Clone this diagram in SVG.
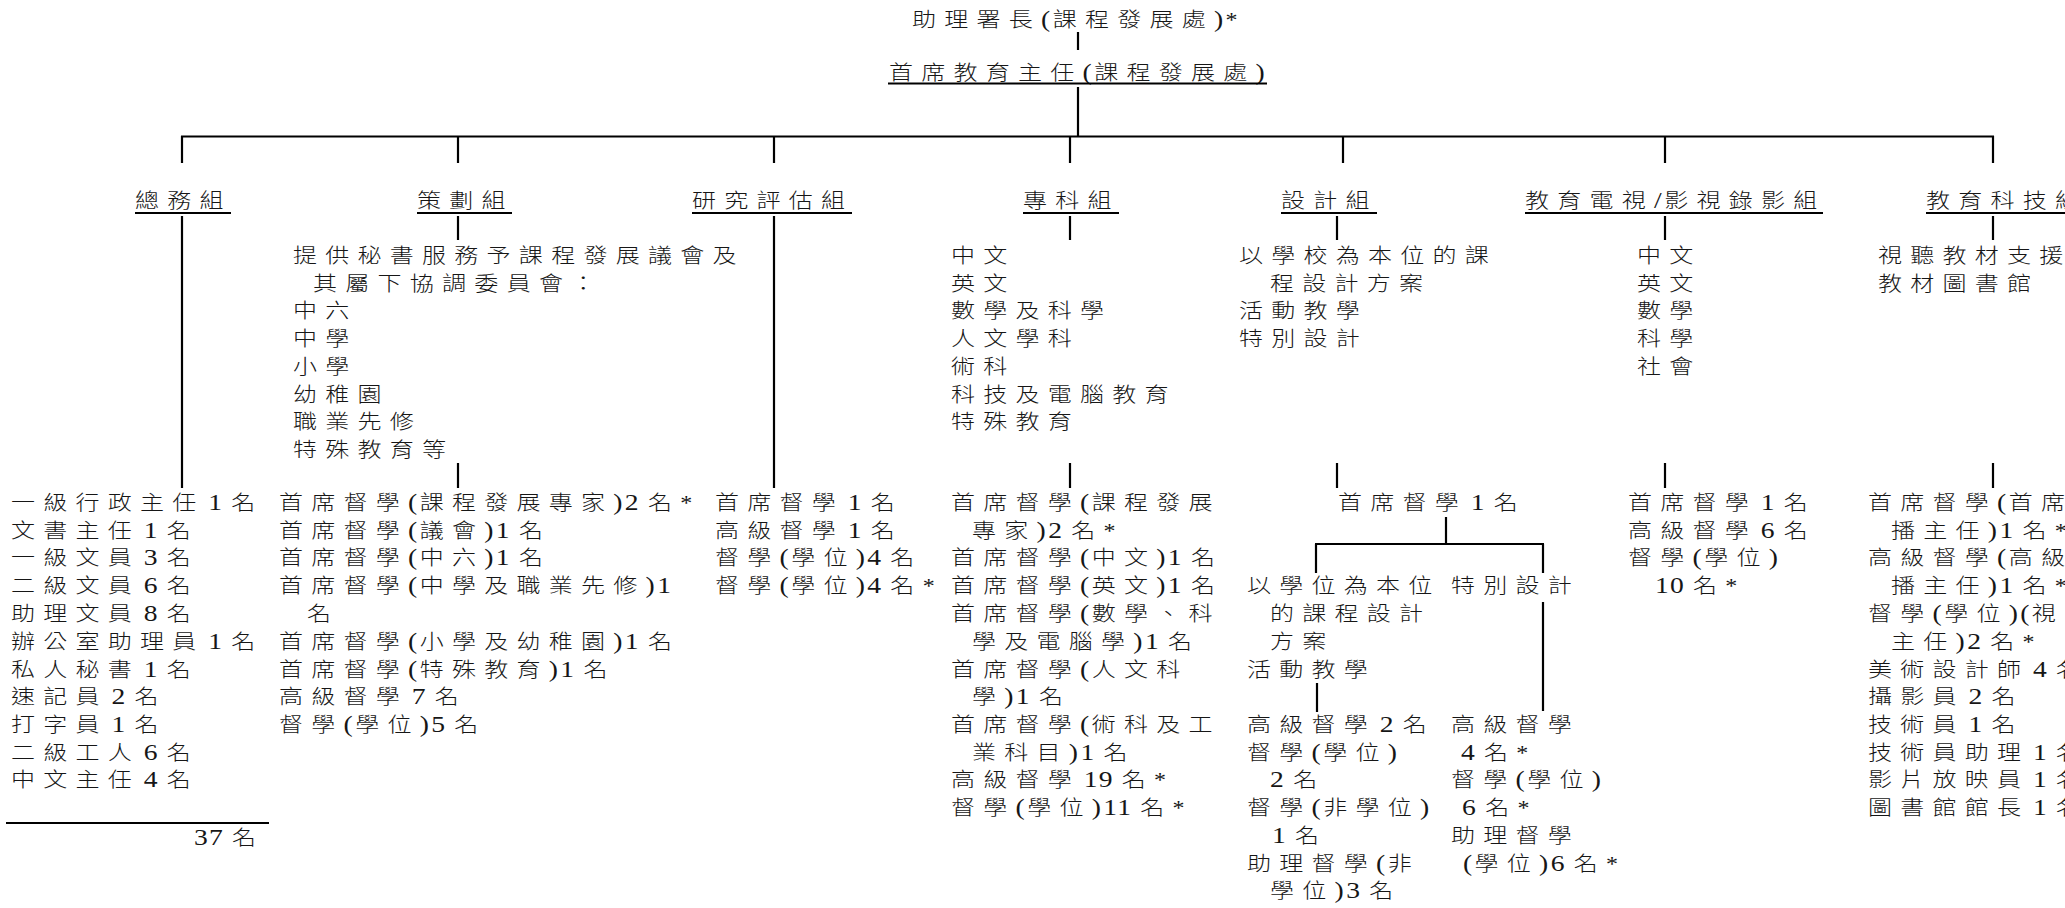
<svg xmlns="http://www.w3.org/2000/svg" width="2065" height="908" viewBox="0 0 2065 908">
<style>
text { font-family: "Liberation Serif", "Noto Sans CJK TC", serif; font-size: 20px; font-weight: 300; letter-spacing: 6.9px; fill: #161616; white-space: pre; }
.n { font-size: 23px; letter-spacing: 1px; }
.p { font-size: 23px; letter-spacing: 2px; }
line { stroke: #000; stroke-width: 2.2; }
</style>
<rect width="2065" height="908" fill="#fff"/>
<g id="connectors">
  <line x1="1078" y1="32" x2="1078" y2="50"/>
  <line x1="1078" y1="87" x2="1078" y2="137"/>
  <line x1="181" y1="136.5" x2="1994" y2="136.5"/>
  <line x1="182" y1="136" x2="182" y2="163"/>
  <line x1="458" y1="136" x2="458" y2="163"/>
  <line x1="774" y1="136" x2="774" y2="163"/>
  <line x1="1070" y1="136" x2="1070" y2="163"/>
  <line x1="1343" y1="136" x2="1343" y2="163"/>
  <line x1="1665" y1="136" x2="1665" y2="163"/>
  <line x1="1993" y1="136" x2="1993" y2="163"/>
  <line x1="182" y1="216" x2="182" y2="488"/>
  <line x1="458" y1="216" x2="458" y2="240"/>
  <line x1="458" y1="463" x2="458" y2="488"/>
  <line x1="774" y1="216" x2="774" y2="488"/>
  <line x1="1070" y1="216" x2="1070" y2="240"/>
  <line x1="1070" y1="463" x2="1070" y2="488"/>
  <line x1="1337" y1="216" x2="1337" y2="240"/>
  <line x1="1337" y1="463" x2="1337" y2="488"/>
  <line x1="1665" y1="216" x2="1665" y2="240"/>
  <line x1="1665" y1="463" x2="1665" y2="488"/>
  <line x1="1993" y1="216" x2="1993" y2="240"/>
  <line x1="1993" y1="463" x2="1993" y2="488"/>
  <line x1="1446" y1="517" x2="1446" y2="544"/>
  <line x1="1315" y1="544" x2="1544" y2="544"/>
  <line x1="1316" y1="544" x2="1316" y2="573"/>
  <line x1="1543" y1="544" x2="1543" y2="573"/>
  <line x1="1317" y1="683" x2="1317" y2="712"/>
  <line x1="1543" y1="602" x2="1543" y2="711"/>
</g>
<g id="asst-director">
  <g transform="translate(912 0) scale(1.2 1)">
    <text x="0" y="27">助理署長<tspan class="p">(</tspan>課程發展處<tspan class="p">)</tspan>*</text>
  </g>
</g>
<g id="chief-officer">
  <g transform="translate(889 0) scale(1.2 1)">
    <text x="0" y="80">首席教育主任<tspan class="p">(</tspan>課程發展處<tspan class="p">)</tspan></text>
  </g>
  <line x1="888" y1="83.5" x2="1267" y2="83.5"/>
</g>
<g id="general-section">
  <g transform="translate(135 0) scale(1.2 1)"><text x="0" y="208.5">總務組</text></g>
  <line x1="135" y1="213" x2="231" y2="213"/>
  <g transform="translate(11 0) scale(1.2 1)">
    <text x="0" y="510">一級行政主任<tspan class="n" dx="3">1 </tspan>名</text>
    <text x="0" y="537.75">文書主任<tspan class="n" dx="3">1 </tspan>名</text>
    <text x="0" y="565.5">一級文員<tspan class="n" dx="3">3 </tspan>名</text>
    <text x="0" y="593.25">二級文員<tspan class="n" dx="3">6 </tspan>名</text>
    <text x="0" y="621">助理文員<tspan class="n" dx="3">8 </tspan>名</text>
    <text x="0" y="648.75">辦公室助理員<tspan class="n" dx="3">1 </tspan>名</text>
    <text x="0" y="676.5">私人秘書<tspan class="n" dx="3">1 </tspan>名</text>
    <text x="0" y="704.25">速記員<tspan class="n" dx="3">2 </tspan>名</text>
    <text x="0" y="732">打字員<tspan class="n" dx="3">1 </tspan>名</text>
    <text x="0" y="759.75">二級工人<tspan class="n" dx="3">6 </tspan>名</text>
    <text x="0" y="787.5">中文主任<tspan class="n" dx="3">4 </tspan>名</text>
  </g>
  <line x1="6" y1="823" x2="269" y2="823"/>
  <g transform="translate(194 0) scale(1.2 1)"><text x="0" y="845"><tspan class="n">37 </tspan>名</text></g>
</g>
<g id="planning-section">
  <g transform="translate(417 0) scale(1.2 1)"><text x="0" y="208.5">策劃組</text></g>
  <line x1="417" y1="213" x2="512" y2="213"/>
  <g transform="translate(293 0) scale(1.2 1)">
    <text x="0" y="263">提供秘書服務予課程發展議會及</text>
    <text x="16.7" y="290.75">其屬下協調委員會：</text>
    <text x="0" y="318.5">中六</text>
    <text x="0" y="346.25">中學</text>
    <text x="0" y="374">小學</text>
    <text x="0" y="401.75">幼稚園</text>
    <text x="0" y="429.5">職業先修</text>
    <text x="0" y="457.25">特殊教育等</text>
  </g>
  <g transform="translate(279 0) scale(1.2 1)">
    <text x="0" y="510">首席督學<tspan class="p">(</tspan>課程發展專家<tspan class="p">)</tspan><tspan class="n">2 </tspan>名*</text>
    <text x="0" y="537.75">首席督學<tspan class="p">(</tspan>議會<tspan class="p">)</tspan><tspan class="n">1 </tspan>名</text>
    <text x="0" y="565.5">首席督學<tspan class="p">(</tspan>中六<tspan class="p">)</tspan><tspan class="n">1 </tspan>名</text>
    <text x="0" y="593.25">首席督學<tspan class="p">(</tspan>中學及職業先修<tspan class="p">)</tspan><tspan class="n">1</tspan></text>
    <text x="23.3" y="621">名</text>
    <text x="0" y="648.75">首席督學<tspan class="p">(</tspan>小學及幼稚園<tspan class="p">)</tspan><tspan class="n">1 </tspan>名</text>
    <text x="0" y="676.5">首席督學<tspan class="p">(</tspan>特殊教育<tspan class="p">)</tspan><tspan class="n">1 </tspan>名</text>
    <text x="0" y="704.25">高級督學<tspan class="n" dx="3">7 </tspan>名</text>
    <text x="0" y="732">督學<tspan class="p">(</tspan>學位<tspan class="p">)</tspan><tspan class="n">5 </tspan>名</text>
  </g>
</g>
<g id="research-section">
  <g transform="translate(692 0) scale(1.2 1)"><text x="0" y="208.5">研究評估組</text></g>
  <line x1="692" y1="213" x2="852" y2="213"/>
  <g transform="translate(715 0) scale(1.2 1)">
    <text x="0" y="510">首席督學<tspan class="n" dx="3">1 </tspan>名</text>
    <text x="0" y="537.75">高級督學<tspan class="n" dx="3">1 </tspan>名</text>
    <text x="0" y="565.5">督學<tspan class="p">(</tspan>學位<tspan class="p">)</tspan><tspan class="n">4 </tspan>名</text>
    <text x="0" y="593.25">督學<tspan class="p">(</tspan>學位<tspan class="p">)</tspan><tspan class="n">4 </tspan>名*</text>
  </g>
</g>
<g id="subject-section">
  <g transform="translate(1023 0) scale(1.2 1)"><text x="0" y="208.5">專科組</text></g>
  <line x1="1023" y1="213" x2="1119" y2="213"/>
  <g transform="translate(951 0) scale(1.2 1)">
    <text x="0" y="263">中文</text>
    <text x="0" y="290.75">英文</text>
    <text x="0" y="318.5">數學及科學</text>
    <text x="0" y="346.25">人文學科</text>
    <text x="0" y="374">術科</text>
    <text x="0" y="401.75">科技及電腦教育</text>
    <text x="0" y="429.5">特殊教育</text>
    <text x="0" y="510">首席督學<tspan class="p">(</tspan>課程發展</text>
    <text x="17.5" y="537.75">專家<tspan class="p">)</tspan><tspan class="n">2 </tspan>名*</text>
    <text x="0" y="565.5">首席督學<tspan class="p">(</tspan>中文<tspan class="p">)</tspan><tspan class="n">1 </tspan>名</text>
    <text x="0" y="593.25">首席督學<tspan class="p">(</tspan>英文<tspan class="p">)</tspan><tspan class="n">1 </tspan>名</text>
    <text x="0" y="621">首席督學<tspan class="p">(</tspan>數學、科</text>
    <text x="17.5" y="648.75">學及電腦學<tspan class="p">)</tspan><tspan class="n">1 </tspan>名</text>
    <text x="0" y="676.5">首席督學<tspan class="p">(</tspan>人文科</text>
    <text x="17.5" y="704.25">學<tspan class="p">)</tspan><tspan class="n">1 </tspan>名</text>
    <text x="0" y="732">首席督學<tspan class="p">(</tspan>術科及工</text>
    <text x="17.5" y="759.75">業科目<tspan class="p">)</tspan><tspan class="n">1 </tspan>名</text>
    <text x="0" y="787.5">高級督學<tspan class="n" dx="3">19 </tspan>名*</text>
    <text x="0" y="815.25">督學<tspan class="p">(</tspan>學位<tspan class="p">)</tspan><tspan class="n">11 </tspan>名*</text>
  </g>
</g>
<g id="design-section">
  <g transform="translate(1281 0) scale(1.2 1)"><text x="0" y="208.5">設計組</text></g>
  <line x1="1281" y1="213" x2="1377" y2="213"/>
  <g transform="translate(1239 0) scale(1.2 1)">
    <text x="0" y="263">以學校為本位的課</text>
    <text x="25.8" y="290.75">程設計方案</text>
    <text x="0" y="318.5">活動教學</text>
    <text x="0" y="346.25">特別設計</text>
  </g>
  <g transform="translate(1338 0) scale(1.2 1)">
    <text x="0" y="510">首席督學<tspan class="n" dx="3">1 </tspan>名</text>
  </g>
  <g transform="translate(1247 0) scale(1.2 1)">
    <text x="0" y="593.25">以學位為本位</text>
    <text x="19.2" y="621">的課程設計</text>
    <text x="19.2" y="648.75">方案</text>
    <text x="0" y="676.5">活動教學</text>
    <text x="0" y="732">高級督學<tspan class="n" dx="3">2 </tspan>名</text>
    <text x="0" y="759.75">督學<tspan class="p">(</tspan>學位<tspan class="p">)</tspan></text>
    <text x="19.2" y="787.5"><tspan class="n">2 </tspan>名</text>
    <text x="0" y="815.25">督學<tspan class="p">(</tspan>非學位<tspan class="p">)</tspan></text>
    <text x="20.8" y="843"><tspan class="n">1 </tspan>名</text>
    <text x="0" y="870.75">助理督學<tspan class="p">(</tspan>非</text>
    <text x="19.2" y="898.5">學位<tspan class="p">)</tspan><tspan class="n">3 </tspan>名</text>
  </g>
  <g transform="translate(1451 0) scale(1.2 1)">
    <text x="0" y="593.25">特別設計</text>
    <text x="0" y="732">高級督學</text>
    <text x="8.3" y="759.75"><tspan class="n">4 </tspan>名*</text>
    <text x="0" y="787.5">督學<tspan class="p">(</tspan>學位<tspan class="p">)</tspan></text>
    <text x="9.2" y="815.25"><tspan class="n">6 </tspan>名*</text>
    <text x="0" y="843">助理督學</text>
    <text x="10" y="870.75"><tspan class="p">(</tspan>學位<tspan class="p">)</tspan><tspan class="n">6 </tspan>名*</text>
  </g>
</g>
<g id="etv-section">
  <g transform="translate(1525 0) scale(1.2 1)"><text x="0" y="208.5">教育電視<tspan class="p">/</tspan>影視錄影組</text></g>
  <line x1="1525" y1="213" x2="1823" y2="213"/>
  <g transform="translate(1637 0) scale(1.2 1)">
    <text x="0" y="263">中文</text>
    <text x="0" y="290.75">英文</text>
    <text x="0" y="318.5">數學</text>
    <text x="0" y="346.25">科學</text>
    <text x="0" y="374">社會</text>
  </g>
  <g transform="translate(1628 0) scale(1.2 1)">
    <text x="0" y="510">首席督學<tspan class="n" dx="3">1 </tspan>名</text>
    <text x="0" y="537.75">高級督學<tspan class="n" dx="3">6 </tspan>名</text>
    <text x="0" y="565.5">督學<tspan class="p">(</tspan>學位<tspan class="p">)</tspan></text>
    <text x="22.5" y="593.25"><tspan class="n">10 </tspan>名*</text>
  </g>
</g>
<g id="edtech-section">
  <g transform="translate(1926 0) scale(1.2 1)"><text x="0" y="208.5">教育科技組</text></g>
  <line x1="1926" y1="213" x2="2066" y2="213"/>
  <g transform="translate(1878 0) scale(1.2 1)">
    <text x="0" y="263">視聽教材支援</text>
    <text x="0" y="290.75">教材圖書館</text>
  </g>
  <g transform="translate(1868 0) scale(1.2 1)">
    <text x="0" y="510">首席督學<tspan class="p">(</tspan>首席</text>
    <text x="19.2" y="537.75">播主任<tspan class="p">)</tspan><tspan class="n">1 </tspan>名*</text>
    <text x="0" y="565.5">高級督學<tspan class="p">(</tspan>高級</text>
    <text x="19.2" y="593.25">播主任<tspan class="p">)</tspan><tspan class="n">1 </tspan>名*</text>
    <text x="0" y="621">督學<tspan class="p">(</tspan>學位<tspan class="p">)(</tspan>視</text>
    <text x="19.2" y="648.75">主任<tspan class="p">)</tspan><tspan class="n">2 </tspan>名*</text>
    <text x="0" y="676.5">美術設計師<tspan class="n" dx="3">4 </tspan>名</text>
    <text x="0" y="704.25">攝影員<tspan class="n" dx="3">2 </tspan>名</text>
    <text x="0" y="732">技術員<tspan class="n" dx="3">1 </tspan>名</text>
    <text x="0" y="759.75">技術員助理<tspan class="n" dx="3">1 </tspan>名</text>
    <text x="0" y="787.5">影片放映員<tspan class="n" dx="3">1 </tspan>名</text>
    <text x="0" y="815.25">圖書館館長<tspan class="n" dx="3">1 </tspan>名</text>
  </g>
</g>
</svg>
